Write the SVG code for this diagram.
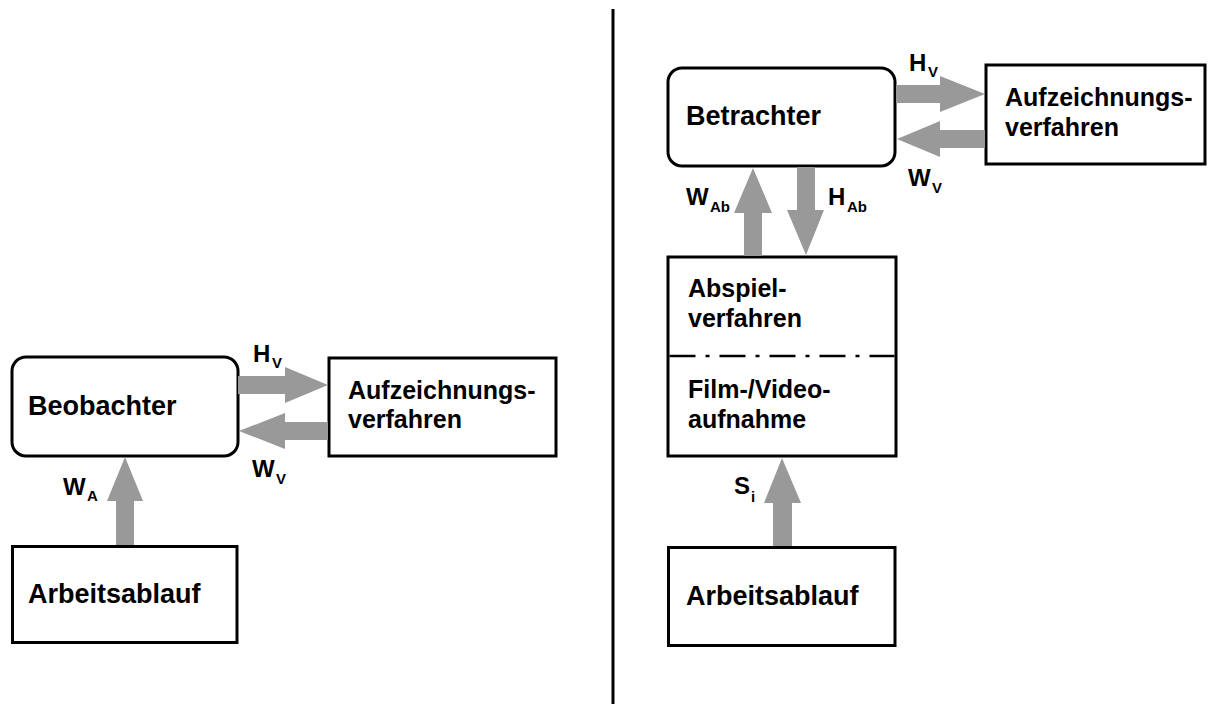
<svg xmlns="http://www.w3.org/2000/svg" width="1208" height="704" viewBox="0 0 1208 704">
  <style>
    .box { fill: #ffffff; stroke: #000000; stroke-width: 3; }
    .node { font-family: "Liberation Sans", Arial, sans-serif; font-weight: bold; font-size: 27px; fill: #000000; }
    .node2 { font-family: "Liberation Sans", Arial, sans-serif; font-weight: bold; font-size: 25px; fill: #000000; }
    .lbl { font-family: "Liberation Sans", Arial, sans-serif; font-weight: bold; font-size: 24px; fill: #000000; }
    .sub { font-family: "Liberation Sans", Arial, sans-serif; font-weight: bold; font-size: 15px; fill: #000000; }
    .flow { fill: #999999; stroke: none; }
    .sep { stroke: #000000; stroke-width: 3; }
    .dashdot { stroke: #000000; stroke-width: 2.5; stroke-dasharray: 26 10 4 10; }
  </style>

  <!-- separator between the two variants -->
  <line class="sep" x1="613" y1="9" x2="613" y2="704"/>

  <!-- left: direct observation -->
  <g id="beobachter">
    <rect class="box" x="12" y="357" width="226" height="99" rx="14" ry="14"/>
    <text class="node" x="28" y="415">Beobachter</text>
  </g>
  <g id="aufzeichnung-links">
    <rect class="box" x="329" y="358" width="227" height="98"/>
    <text class="node2" x="348" y="399">Aufzeichnungs-</text>
    <text class="node2" x="348" y="428">verfahren</text>
  </g>
  <g id="arbeitsablauf-links">
    <rect class="box" x="12.5" y="546.5" width="224.5" height="96"/>
    <text class="node" x="28" y="603">Arbeitsablauf</text>
  </g>

  <!-- right: observation from recording -->
  <g id="betrachter">
    <rect class="box" x="668" y="68" width="227" height="98" rx="14" ry="14"/>
    <text class="node" x="686" y="125">Betrachter</text>
  </g>
  <g id="aufzeichnung-rechts">
    <rect class="box" x="986" y="65" width="219" height="99"/>
    <text class="node2" x="1005" y="106">Aufzeichnungs-</text>
    <text class="node2" x="1005" y="136">verfahren</text>
  </g>
  <g id="abspiel-film">
    <rect class="box" x="668" y="257" width="228" height="199"/>
    <line class="dashdot" x1="669.5" y1="356" x2="894.5" y2="356"/>
    <text class="node2" x="688" y="297">Abspiel-</text>
    <text class="node2" x="688" y="327">verfahren</text>
    <text class="node2" x="688" y="398">Film-/Video-</text>
    <text class="node2" x="688" y="428">aufnahme</text>
  </g>
  <g id="arbeitsablauf-rechts">
    <rect class="box" x="668.5" y="547.5" width="226.5" height="98"/>
    <text class="node" x="686" y="605">Arbeitsablauf</text>
  </g>

  <!-- block arrows -->
  <g id="connectors">
    <!-- left -->
    <polygon class="flow" points="238,376 285,376 285,367 328,385 285,403 285,394 238,394"/>
    <polygon class="flow" points="328,422 285,422 285,413 239,431 285,449 285,440 328,440"/>
    <polygon class="flow" points="116,545 116,501 107,501 125,457 143,501 134,501 134,545"/>
    <!-- right -->
    <polygon class="flow" points="896,85 940,85 940,76 985,94 940,112 940,103 896,103"/>
    <polygon class="flow" points="985,130 940,130 940,121 897,139 940,157 940,148 985,148"/>
    <polygon class="flow" points="744,256 744,213 734,213 753,168 772,213 762,213 762,256"/>
    <polygon class="flow" points="797,167 815,167 815,210 824,210 806,255 787,210 797,210"/>
    <polygon class="flow" points="773,546 773,503 764,503 782,458 801,503 792,503 792,546"/>
  </g>

  <!-- arrow labels -->
  <g id="labels">
    <text class="lbl" x="253" y="362">H</text><text class="sub" x="272" y="368">V</text>
    <text class="lbl" x="252" y="477">W</text><text class="sub" x="276" y="484">V</text>
    <text class="lbl" x="63" y="495">W</text><text class="sub" x="87" y="501">A</text>
    <text class="lbl" x="909" y="71">H</text><text class="sub" x="928" y="77">V</text>
    <text class="lbl" x="908" y="186">W</text><text class="sub" x="932" y="193">V</text>
    <text class="lbl" x="686" y="205">W</text><text class="sub" x="710" y="212">Ab</text>
    <text class="lbl" x="828" y="205">H</text><text class="sub" x="847" y="212">Ab</text>
    <text class="lbl" x="734" y="494">S</text><text class="sub" x="751" y="502">i</text>
  </g>
</svg>
